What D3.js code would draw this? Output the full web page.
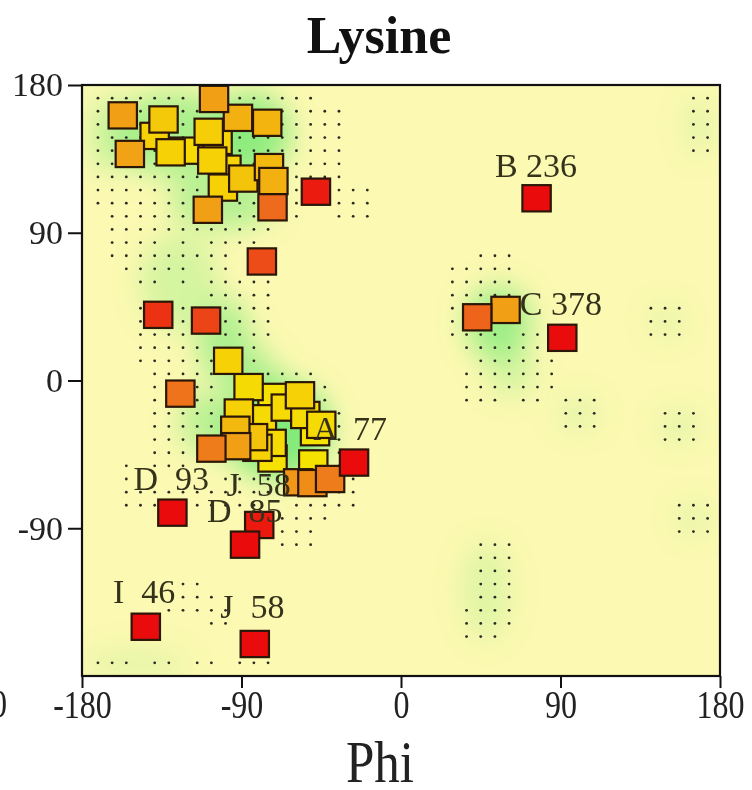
<!DOCTYPE html>
<html>
<head>
<meta charset="utf-8">
<script src="https://cdn.jsdelivr.net/npm/d3@7"></script>
<style>
  body { margin: 0; background: #fff; }
  svg { display: block; }
  text { font-family: "Liberation Serif", "DejaVu Serif", serif; }
</style>
</head>
<body>
<svg id="chart" width="752" height="790"></svg>
<script>
// residues, phi / psi / colour level (0 = yellow ... 1 = red)
var phi = [
  -157, -134, -139, -153, -130, -122, -105.5, -92, -75.5, -108.5, -103.5, -106.5, -98.5, -100.5, -89, -74.5, -72, -72.5, -109,
  -97.5, -86, -72.5, -91.5, -78.5, -65, -57, -54, -48.5, -45, -93.5, -107, -93, -83.5, -81, -72.5, -73, -49.5, -58, -50, -40,
  76.5, 91, 43, 59, -48, -78.5, -137, -110, -124.5, -129, -80, -88, -144, -82.5, -26.5
];
var psi = [
  161.5, 159, 149, 138, 139, 140, 171.5, 160, 157, 151.5, 146, 134, 129, 117.5, 123, 130, 121.5, 105.5, 104,
  12, -4, -10, -19.5, -23, -16.5, -9, -21, -31.5, -27, -30, -41.5, -40, -34.5, -41, -47.5, -38, -50.5, -62, -62.5, -60,
  111, 26, 38.5, 43, 115, 72.5, 40, 36.5, -8, -80.5, -88, -100, -150, -160.5, -50
];
var level = [
  0.4, 0.15, 0.1, 0.38, 0.1, 0.05, 0.4, 0.3, 0.28, 0.12, 0.08, 0.1, 0.08, 0.1, 0.18, 0.25, 0.3, 0.7, 0.4,
  0.1, 0.05, 0, 0.1, 0.05, 0.05, 0.1, 0.05, 0, 0.05, 0.25, 0.6, 0.4, 0.2, 0.1, 0, 0.05, 0, 0.45, 0.5, 0.6,
  1, 1, 0.72, 0.4, 0.95, 0.8, 0.88, 0.82, 0.65, 1, 0.96, 1, 1, 1, 1
];

// residue labels (text start, baseline) in phi/psi
var labelText = ["B 236", "C 378", "A  77", "D  93", "J  58", "D  85", "I  46", "J  58"];
var labelPhi = [53, 67, -49.5, -151, -98.5, -109.5, -162.5, -102];
var labelPsi = [124, 40, -36, -66.5, -70.5, -86, -135.5, -144.5];

// axis ticks
var xTicks = [-180, -90, 0, 90, 180];
var yTicks = [-90, 0, 90, 180];

// favoured-region grid (8 degree cells): [row, first col, last col]
var dotRuns = [
  [0,0,6],[0,10,15],[0,42,43],[1,0,17],[1,42,43],[2,0,17],[2,42,43],[3,0,17],[3,42,43],[4,0,17],[4,42,43],
  [5,0,17],[6,0,17],[7,0,8],[7,14,19],[8,0,6],[8,10,11],[8,14,19],[9,1,6],[9,10,11],[9,14,14],[9,17,19],
  [10,1,12],[11,1,4],[11,6,6],[11,8,11],[12,1,9],[12,27,29],[13,2,6],[13,8,9],[13,25,29],
  [14,3,4],[14,6,6],[14,8,12],[14,25,29],[15,8,12],[15,25,29],[16,3,3],[16,6,12],[16,25,26],[16,39,41],
  [17,3,12],[17,25,25],[17,39,41],[18,3,6],[18,9,12],[18,25,28],[18,30,31],[18,39,41],
  [19,3,7],[19,11,11],[19,26,31],[20,3,8],[20,11,11],[20,27,32],[21,4,8],[21,12,15],[21,26,32],
  [22,4,8],[22,15,16],[22,26,32],[23,4,8],[23,15,16],[23,26,28],[23,30,31],[23,33,35],
  [24,4,8],[24,16,17],[24,33,35],[24,40,42],[25,4,8],[25,17,17],[25,33,35],[25,40,42],
  [26,4,6],[26,17,17],[26,40,42],[27,4,6],[27,17,17],[28,2,2],[28,4,6],[28,17,18],
  [29,2,2],[29,9,12],[29,18,18],[30,2,12],[30,14,18],[31,2,4],[31,7,11],[31,14,18],[31,41,43],
  [32,13,16],[32,41,43],[33,13,15],[33,41,43],[34,13,15],[34,27,29],[35,27,29],[36,27,29],
  [37,6,7],[37,27,29],[38,6,8],[38,27,29],[39,5,9],[39,26,29],[40,8,9],[40,26,29],[41,26,28],
  [43,0,2],[43,4,5],[43,7,8],[43,10,12]
];

// green density blobs: phi, psi, half width, half height (deg), strength
var blobPhi = [-128, -85, -100, -125, -100, -110, -70, -85, 55, 62, -165, 48, 100, 157, 165, 168, 150, -150];
var blobPsi = [150, 150, 110, 60, 25, -25, -30, 5, 35, 5, 150, -128, -20, -28, -84, 155, 36, -172];
var blobRx = [35, 22, 30, 22, 15, 15, 30, 15, 18, 14, 12, 14, 12, 12, 10, 8, 10, 30];
var blobRy = [25, 25, 18, 30, 25, 20, 30, 15, 22, 14, 25, 30, 10, 10, 10, 18, 10, 8];
var blobW = [0.65, 0.85, 0.55, 0.3, 0.6, 0.5, 0.95, 0.55, 0.75, 0.3, 0.3, 0.22, 0.2, 0.2, 0.2, 0.2, 0.18, 0.2];

var svg = d3.select("#chart");
var pLeft = 82, pRight = 720, pTop = 85, pBottom = 676;

var x = d3.scaleLinear().domain([-180, 180]).range([pLeft, pRight]);
var y = d3.scaleLinear().domain([-180, 180]).range([pBottom, pTop]);
var colour = d3.scaleLinear().domain([0, 0.35, 0.7, 1])
  .range(["#f6e200", "#f2a814", "#ee6a1c", "#ea0c0c"]);

var defs = svg.append("defs");
defs.append("clipPath").attr("id", "plotClip")
  .append("rect").attr("x", pLeft).attr("y", pTop).attr("width", pRight - pLeft).attr("height", pBottom - pTop);
defs.append("filter").attr("id", "soft").attr("x", "-50%").attr("y", "-50%").attr("width", "200%").attr("height", "200%")
  .append("feGaussianBlur").attr("stdDeviation", 14);

var plot = svg.append("g").attr("clip-path", "url(#plotClip)");

plot.append("rect")
  .attr("x", pLeft).attr("y", pTop)
  .attr("width", pRight - pLeft).attr("height", pBottom - pTop)
  .attr("fill", "#fcf9b2");

var blobs = plot.append("g").attr("filter", "url(#soft)");
blobs.selectAll("ellipse").data(d3.range(blobPhi.length)).enter().append("ellipse")
  .attr("cx", function(i) { return x(blobPhi[i]); })
  .attr("cy", function(i) { return y(blobPsi[i]); })
  .attr("rx", function(i) { return x(blobRx[i]) - x(0); })
  .attr("ry", function(i) { return y(0) - y(blobRy[i]); })
  .attr("fill", "#7cea76")
  .attr("opacity", function(i) { return blobW[i]; });

// expand the runs into cells
var cells = [];
dotRuns.forEach(function(r) {
  for (var c = r[1]; c <= r[2]; c++) cells.push({ phi: -171 + 8 * c, psi: 172 - 8 * r[0] });
});
plot.append("g").selectAll("circle").data(cells).enter().append("circle")
  .attr("cx", function(d) { return x(d.phi); })
  .attr("cy", function(d) { return y(d.psi); })
  .attr("r", 1.4)
  .attr("fill", "#2a2a22");

// squares, yellow first so the red ones sit on top
var sq = 16;
var w = x(sq) - x(0), h = y(0) - y(sq);
var order = d3.range(phi.length).sort(function(a, b) { return level[a] - level[b] || a - b; });
plot.append("g").selectAll("rect").data(order).enter().append("rect")
  .attr("x", function(i) { return x(phi[i]) - w / 2; })
  .attr("y", function(i) { return y(psi[i]) - h / 2; })
  .attr("width", w).attr("height", h)
  .attr("fill", function(i) { return colour(level[i]); })
  .attr("stroke", "#2b1608")
  .attr("stroke-width", 2.2);

svg.append("g").selectAll("text").data(labelText).enter().append("text")
  .attr("x", function(d, i) { return x(labelPhi[i]); })
  .attr("y", function(d, i) { return y(labelPsi[i]); })
  .attr("font-size", 34)
  .attr("fill", "#35321c")
  .style("white-space", "pre")
  .text(function(d) { return d; });

// frame
svg.append("rect")
  .attr("x", pLeft).attr("y", pTop)
  .attr("width", pRight - pLeft).attr("height", pBottom - pTop)
  .attr("fill", "none").attr("stroke", "#111").attr("stroke-width", 2.2);

var xAxis = svg.append("g")
  .attr("transform", "translate(0," + pBottom + ")")
  .call(d3.axisBottom(x).tickValues(xTicks).tickSize(12).tickPadding(2).tickFormat(d3.format("d")));
xAxis.select(".domain").remove();
xAxis.selectAll("line").attr("stroke", "#111").attr("stroke-width", 2);
xAxis.selectAll("text")
  .attr("font-family", "Liberation Serif, serif")
  .attr("font-size", 40)
  .attr("fill", "#222")
  .attr("transform", "scale(0.8,1)")
  .text(function(d) { return d; });

var yAxis = svg.append("g")
  .attr("transform", "translate(" + pLeft + ",0)")
  .call(d3.axisLeft(y).tickValues(yTicks).tickSize(14).tickPadding(5).tickFormat(d3.format("d")));
yAxis.select(".domain").remove();
yAxis.selectAll("line").attr("stroke", "#111").attr("stroke-width", 2);
yAxis.selectAll("text")
  .attr("font-family", "Liberation Serif, serif")
  .attr("font-size", 34)
  .attr("fill", "#222")
  .text(function(d) { return d; });

// stray clipped label at the left edge (only its right half shows)
svg.append("text")
  .attr("transform", "translate(7,717) scale(0.8,1)")
  .attr("text-anchor", "end")
  .attr("font-size", 40)
  .attr("fill", "#222")
  .text("0");

svg.append("text")
  .attr("x", 379).attr("y", 53)
  .attr("text-anchor", "middle")
  .attr("font-size", 52)
  .attr("font-weight", "bold")
  .attr("fill", "#111")
  .text("Lysine");

svg.append("text")
  .attr("transform", "translate(380,782) scale(0.85,1)")
  .attr("text-anchor", "middle")
  .attr("font-size", 60)
  .attr("fill", "#222")
  .text("Phi");
</script>
</body>
</html>
